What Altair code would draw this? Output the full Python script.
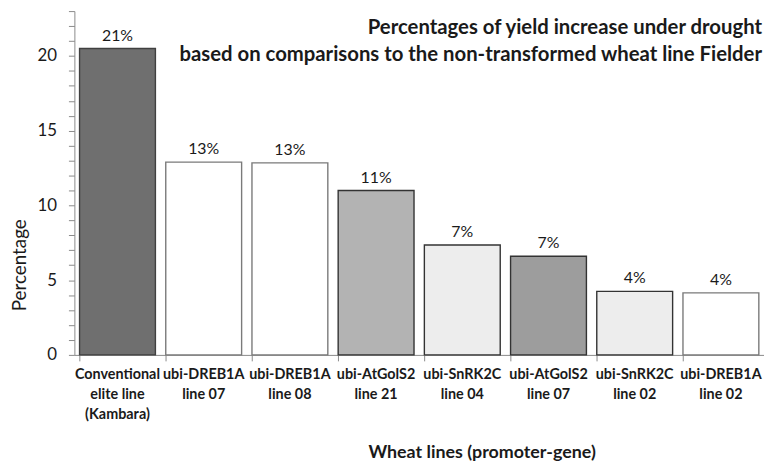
import altair as alt
import pandas as pd

categories = [
    "Conventional|elite line|(Kambara)",
    "ubi-DREB1A|line 07",
    "ubi-DREB1A|line 08",
    "ubi-AtGolS2|line 21",
    "ubi-SnRK2C|line 04",
    "ubi-AtGolS2|line 07",
    "ubi-SnRK2C|line 02",
    "ubi-DREB1A|line 02",
]
values = [20.5, 12.9, 12.85, 11.0, 7.35, 6.6, 4.25, 4.15]
bar_labels = ["21%", "13%", "13%", "11%", "7%", "7%", "4%", "4%"]
y_ticks = list(range(0, 24))
title_lines = [
    "Percentages of yield increase under drought",
    "based on comparisons to the non-transformed wheat line Fielder",
]

fill_range = ["#6f6f6f", "#ffffff", "#ffffff", "#b3b3b3", "#ededed", "#9d9d9d", "#ededed", "#ffffff"]
stroke_range = ["#404040", "#7a7a7a", "#7a7a7a", "#333333", "#333333", "#333333", "#333333", "#7a7a7a"]

df = pd.DataFrame({"line": categories, "value": values, "label": bar_labels})

FONT = "Lato"

x_enc = alt.X(
    "line:N",
    sort=categories,
    scale=alt.Scale(paddingInner=0.12, paddingOuter=0.06),
    axis=alt.Axis(
        title="Wheat lines (promoter-gene)",
        labelExpr="split(datum.label, '|')",
        labelAngle=0,
        labelFont=FONT,
        labelFontWeight="bold",
        labelFontSize=14.5,
        labelColor="#1a1a1a",
        labelLineHeight=20,
        labelPadding=7,
        labelBaseline="top",
        labelOverlap=False,
        bandPosition=0,
        tickSize=6,
        tickColor="#8a8a8a",
        domainColor="#8a8a8a",
        titleFont=FONT,
        titleFontWeight="bold",
        titleFontSize=18,
        titleColor="#1a1a1a",
        titleX=411,
        titleY=104,
        titleBaseline="alphabetic",
        titleAnchor="start",
        titleAlign="center",
    ),
)

y_enc = alt.Y(
    "value:Q",
    scale=alt.Scale(domain=[0, 23], nice=False),
    axis=alt.Axis(
        title="Percentage",
        values=y_ticks,
        labelExpr="datum.value % 5 == 0 ? datum.label : ''",
        labelOverlap=False,
        labelFont=FONT,
        labelFontSize=17,
        labelColor="#1a1a1a",
        labelPadding=12,
        tickSize=6,
        tickColor="#8a8a8a",
        domainColor="#8a8a8a",
        grid=False,
        titleFont=FONT,
        titleFontSize=19,
        titleFontWeight="normal",
        titleColor="#1a1a1a",
        titlePadding=8,
        titleY=256,
        titleAlign="center",
    ),
)

base = alt.Chart(df).encode(x=x_enc, y=y_enc)

bars = base.mark_bar(strokeWidth=1.4).encode(
    fill=alt.Fill("line:N", scale=alt.Scale(domain=categories, range=fill_range), legend=None),
    stroke=alt.Stroke("line:N", scale=alt.Scale(domain=categories, range=stroke_range), legend=None),
)

texts = base.mark_text(
    baseline="bottom", dy=-5, font=FONT, fontSize=16, color="#1a1a1a"
).encode(text="label:N")

chart = (
    alt.layer(bars, texts)
    .properties(
        width=696,
        height=347,
        autosize=alt.AutoSizeParams(type="none"),
        padding={"left": 67, "top": 1, "right": 0, "bottom": 110},
        title=alt.TitleParams(
            text=title_lines,
            anchor="end",
            font=FONT,
            fontSize=20.5,
            fontWeight="bold",
            color="#1a1a1a",
            baseline="alphabetic",
            lineHeight=27,
            dx=-2,
            dy=84,
        ),
    )
    .configure_view(stroke=None)
)

chart.save("out.html", embed_options={"renderer": "svg", "actions": False})
